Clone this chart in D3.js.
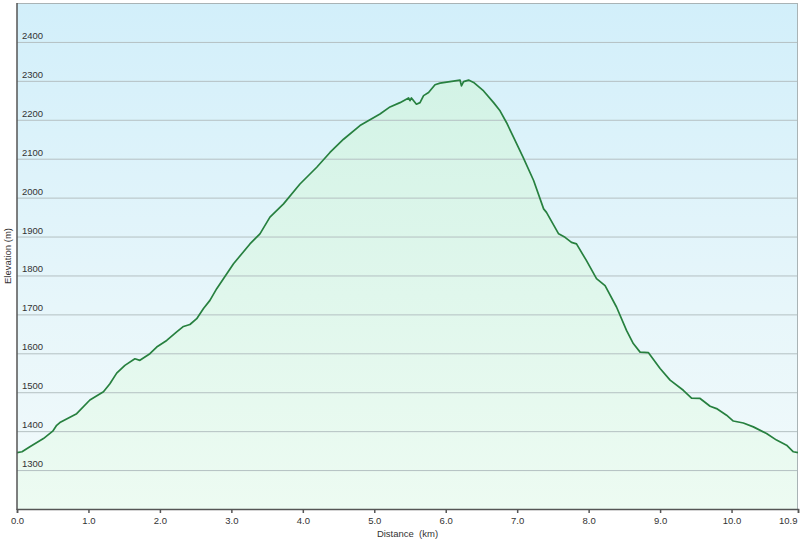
<!DOCTYPE html>
<html><head><meta charset="utf-8">
<script src="https://cdn.jsdelivr.net/npm/d3@7"></script>
<style>html,body{margin:0;padding:0;background:#fff;}svg{display:block;}</style>
</head><body>
<svg id="c" width="800" height="541"></svg>
<script>
const distanceKm = [0.00,0.07,0.18,0.37,0.50,0.555,0.60,0.835,1.02,1.21,1.30,1.395,1.51,1.65,1.72,1.86,1.955,2.095,2.235,2.33,2.42,2.515,2.61,2.70,2.795,3.03,3.26,3.40,3.54,3.73,3.96,4.195,4.38,4.57,4.80,5.08,5.22,5.36,5.48,5.50,5.52,5.59,5.64,5.69,5.76,5.85,5.92,6.06,6.20,6.22,6.25,6.32,6.39,6.53,6.67,6.76,6.85,6.95,7.085,7.23,7.37,7.41,7.58,7.67,7.76,7.83,7.97,8.11,8.23,8.39,8.53,8.625,8.72,8.835,9.00,9.14,9.325,9.44,9.56,9.70,9.79,9.93,10.025,10.165,10.305,10.49,10.63,10.77,10.865,10.93];
const elevationM = [1345,1347,1360,1381,1400,1415,1422,1445,1480,1501,1522,1549,1569,1586,1582,1599,1616,1633,1655,1669,1674,1689,1715,1736,1766,1830,1881,1907,1950,1984,2035,2078,2116,2150,2185,2215,2233,2244,2256,2249,2256,2240,2244,2262,2270,2290,2294,2298,2302,2287,2298,2302,2296,2274,2244,2223,2193,2155,2103,2044,1971,1962,1907,1898,1885,1881,1838,1792,1774,1719,1659,1625,1603,1602,1561,1531,1505,1485,1484,1464,1458,1441,1426,1421,1411,1394,1377,1364,1347,1345];
const xTicks = [0,1,2,3,4,5,6,7,8,9,10,10.93];
const xTickLabels = ["0.0","1.0","2.0","3.0","4.0","5.0","6.0","7.0","8.0","9.0","10.0","10.9"];
const yTicks = [1300,1400,1500,1600,1700,1800,1900,2000,2100,2200,2300,2400];

const data = distanceKm.map((d,i)=>({d, e: elevationM[i]}));
const L=17, R=798, T=3, B=509;
const x = d3.scaleLinear().domain([0,10.93]).range([L,R]);
const y = d3.scaleLinear().domain([1200,2500]).range([B,T]);
const svg = d3.select("#c");
const defs = svg.append("defs");
const bg = defs.append("linearGradient").attr("id","bg").attr("x1",0).attr("y1",0).attr("x2",0).attr("y2",1);
bg.append("stop").attr("offset","0%").attr("stop-color","#d2effa");
bg.append("stop").attr("offset","60%").attr("stop-color","#e7f6fa");
bg.append("stop").attr("offset","100%").attr("stop-color","#f2fafb");
const ag = defs.append("linearGradient").attr("id","ag").attr("gradientUnits","userSpaceOnUse")
  .attr("x1",0).attr("y1",y(2300)).attr("x2",0).attr("y2",B);
ag.append("stop").attr("offset","0%").attr("stop-color","#d3f3e6");
ag.append("stop").attr("offset","100%").attr("stop-color","#edfbf2");

svg.append("rect").attr("x",L).attr("y",T).attr("width",R-L).attr("height",B-T).attr("fill","url(#bg)");

svg.append("path").datum(data)
  .attr("d", d3.area().x(p=>x(p.d)).y0(B).y1(p=>y(p.e)))
  .attr("fill","url(#ag)");

// gridlines
svg.append("g").selectAll("line").data(yTicks).join("line")
  .attr("x1",L).attr("x2",R).attr("y1",v=>y(v)+0.5).attr("y2",v=>y(v)+0.5)
  .attr("stroke","#b4c0c2").attr("stroke-width",1);

// border top/right
svg.append("line").attr("x1",L).attr("x2",R).attr("y1",T+0.5).attr("y2",T+0.5).attr("stroke","#a9b3b5");
svg.append("line").attr("x1",R-0.5).attr("x2",R-0.5).attr("y1",T).attr("y2",B).attr("stroke","#a9b3b5");

svg.append("path").datum(data)
  .attr("d", d3.line().x(p=>x(p.d)).y(p=>y(p.e)))
  .attr("fill","none").attr("stroke","#27803f").attr("stroke-width",1.7).attr("stroke-linejoin","round");

// y labels
svg.append("g").selectAll("text").data(yTicks).join("text")
  .attr("x",22).attr("y",v=>y(v)-3).text(v=>v)
  .attr("font-family","Liberation Sans, Arial, sans-serif").attr("font-size",9.5).attr("fill","#333");

// left axis
svg.append("line").attr("x1",L).attr("x2",L).attr("y1",T).attr("y2",B+1).attr("stroke","#555").attr("stroke-width",1.5);

// bottom axis
const xa = d3.axisBottom(x).tickValues(xTicks).tickFormat((v,i)=>xTickLabels[i]).tickSize(4).tickPadding(4);
const gx = svg.append("g").attr("transform",`translate(0,${B})`).call(xa);
gx.select(".domain").attr("stroke","#555").attr("stroke-width",1.5);
gx.selectAll(".tick line").attr("stroke","#555").attr("stroke-width",1.5);
gx.selectAll(".tick text").attr("font-family","Liberation Sans, Arial, sans-serif").attr("font-size",9.5).attr("fill","#333");
gx.selectAll(".tick text").filter((v,i)=>i===xTicks.length-1).attr("text-anchor","end").attr("dx",-1);

svg.append("text").attr("x",(L+R)/2).attr("y",537).attr("text-anchor","middle")
  .attr("font-family","Liberation Sans, Arial, sans-serif").attr("font-size",9.5).attr("fill","#333")
  .attr("xml:space","preserve").text("Distance  (km)");
svg.append("text").attr("transform",`translate(11,${(T+B)/2}) rotate(-90)`).attr("text-anchor","middle")
  .attr("font-family","Liberation Sans, Arial, sans-serif").attr("font-size",9.5).attr("fill","#333")
  .text("Elevation (m)");
</script>
</body></html>
